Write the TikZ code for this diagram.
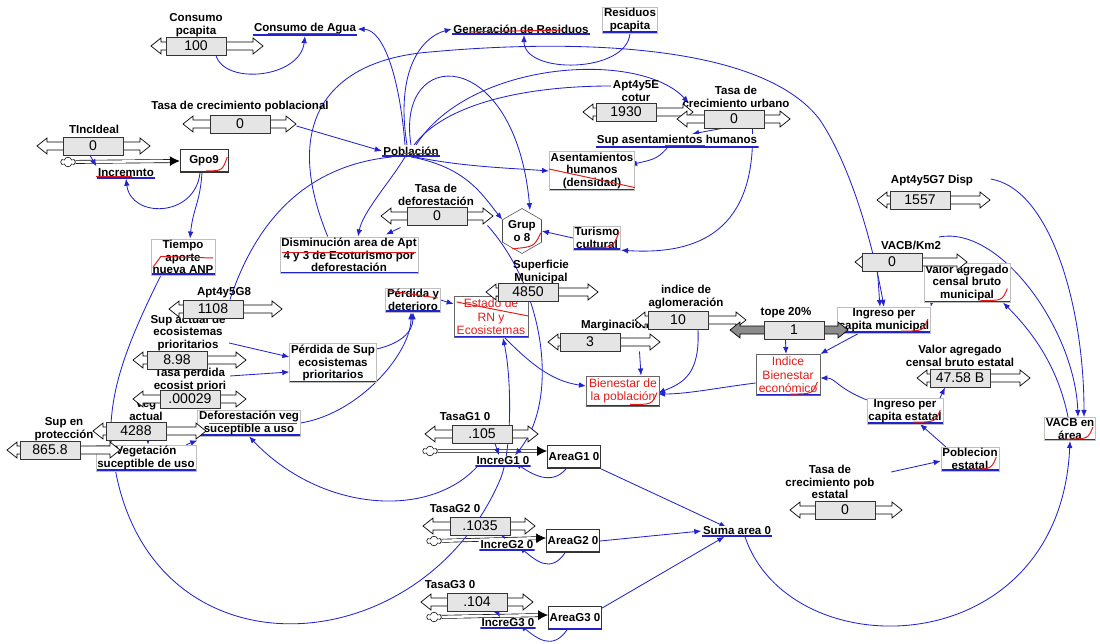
\documentclass[tikz,border=0pt]{standalone}
\usepackage{fontspec}
\setmainfont{Liberation Sans}
\usetikzlibrary{positioning, arrows.meta, calc, shapes.geometric, shapes.symbols, backgrounds}

\definecolor{linkblue}{RGB}{35,35,205}
\definecolor{markred}{RGB}{225,30,30}
\newcommand{\lblfont}{\fontsize{8.2}{8.9}\selectfont\bfseries}
\newcommand{\goalfont}{\fontsize{8.6}{9.6}\selectfont}

% slider: [fill] name, x, y, value, left tip, right tip
\newcommand{\slidervar}[7][white]{%
  \draw[sliderarrow, fill=#1] (#3-30,#4-4) -- (#6+10,#4-4) -- (#6+10,#4-8) -- (#6,#4)
      -- (#6+10,#4+8) -- (#6+10,#4+4) -- (#3-30,#4+4);
  \draw[sliderarrow, fill=#1] (#3+30,#4-4) -- (#7-10,#4-4) -- (#7-10,#4-8) -- (#7,#4)
      -- (#7-10,#4+8) -- (#7-10,#4+4) -- (#3+30,#4+4);
  \node[sliderbox] (#2) at (#3,#4) {#5};
}

\begin{document}
\begin{tikzpicture}[
    x=0.025cm, y=-0.025cm,
    lbl/.style={font=\lblfont, align=center, inner sep=1pt},
    uline/.style={path picture={\draw[linkblue, line width=2.4pt] (path picture bounding box.south west) -- (path picture bounding box.south east);}},
    aux/.style={lbl, fill=white, uline},
    auxbox/.style={aux, draw=black!25},
    goal/.style={lbl, font=\goalfont, text=markred, draw=black!60, fill=white, uline, inner sep=2pt},
    stock/.style={lbl, draw=black!80, fill=white, uline, minimum width=1.2cm, minimum height=0.58cm},
    hexa/.style={lbl, regular polygon, regular polygon sides=6, shape border rotate=30, draw=black!70, fill=white, minimum size=1.05cm, inner sep=0pt},
    srccloud/.style={cloud, cloud puffs=6, draw=black, fill=white, minimum width=0.36cm, minimum height=0.24cm, inner sep=0pt},
    pipe/.style={draw=black, line width=0.45pt, double=white, double distance=1.8pt, -{Latex[length=7pt,width=7pt]}},
    link/.style={draw=linkblue, line width=0.6pt, -{Latex[length=5pt,width=4pt]}},
    plainlink/.style={draw=linkblue, line width=0.6pt},
    redmark/.style={draw=markred, line width=0.7pt},
    sliderbox/.style={draw=black!80, fill=black!10, line width=0.7pt, minimum width=1.5cm, minimum height=0.45cm, inner sep=0pt, font=\fontsize{10}{10}\selectfont},
    sliderarrow/.style={draw=black, line width=0.5pt}
]
\useasboundingbox (0,0) rectangle (1100,644);

% Variables
\node[aux] (agua) at (305,29) {Consumo de Agua};
\node[aux] (residuos) at (521,29) {Generación de Residuos};
\node[auxbox] (rpcap) at (630,20) {Residuos\\pcapita};
\node[aux] (pob) at (411,151) {Población};
\node[aux] (supasen) at (677,141) {Sup asentamientos humanos};
\node[auxbox] (asen) at (592,171) {Asentamientos\\humanos\\(densidad)};
\node[stock] (gpo9) at (204,161) {Gpo9};
\node[aux] (incr) at (126,173) {Incremnto};
\node[auxbox] (tiempo) at (183,257) {Tiempo\\aporte\\nueva ANP};
\node[auxbox] (dismin) at (349,255) {Disminución area de Apt\\4 y 3 de Ecoturismo por\\deforestación};
\node[hexa] (grup) at (522,231) {Grup\\o 8};
\node[auxbox] (turismo) at (597,238) {Turismo\\cultural};
\node[auxbox] (perdet) at (413,300) {Pérdida y\\deterioro};
\node[goal] (estado) at (491,317) {Estado de\\RN y\\Ecosistemas};
\node[auxbox] (perdsup) at (333,363) {Pérdida de Sup\\ecosistemas\\prioritarios};
\node[auxbox] (defveg) at (249,423) {Deforestación veg\\suceptible a uso};
\node[auxbox] (vegsus) at (146,458) {Vegetación\\suceptible de uso};
\node[goal] (bienpob) at (623,391) {Bienestar de\\la población};
\node[goal] (indbien) at (788,375) {Indice\\Bienestar\\económico};
\node[auxbox] (ingmun) at (884,320) {Ingreso per\\capita municipal};
\node[auxbox] (vagmun) at (967,283) {Valor agregado\\censal bruto\\municipal};
\node[auxbox] (ingest) at (905,411) {Ingreso per\\capita estatal};
\node[auxbox] (pobest) at (970,459) {Poblecion\\estatal};
\node[auxbox] (vacb) at (1070,429) {VACB en\\área};
\node[aux] (incre1) at (503,461) {IncreG1 0};
\node[aux] (incre2) at (507,545) {IncreG2 0};
\node[aux] (incre3) at (508,623) {IncreG3 0};
\node[stock] (areag1) at (574,457) {AreaG1 0};
\node[stock] (areag2) at (573,541) {AreaG2 0};
\node[stock] (areag3) at (575,618) {AreaG3 0};
\node[aux] (suma) at (737,531) {Suma area 0};
\node[srccloud] (cl9) at (68,162) {};
\node[srccloud] (cl1) at (430,451) {};
\node[srccloud] (cl2) at (434,541) {};
\node[srccloud] (cl3) at (434,617) {};

% Slider labels
\node[lbl] (cpcl) at (196,25) {Consumo\\pcapita};
\node[lbl] (tcpl) at (240,107) {Tasa de crecimiento poblacional};
\node[lbl] (tiil) at (94,129) {TIncIdeal};
\node[lbl] (aptel) at (636,91) {Apt4y5E\\cotur};
\node[lbl] (tcul) at (736,97) {Tasa de\\crecimiento urbano};
\node[lbl] (apt7l) at (932,181) {Apt4y5G7 Disp};
\node[lbl] (tdefl) at (436,195) {Tasa de\\deforestación};
\node[lbl] (vacbkml) at (911,245) {VACB/Km2};
\node[lbl] (apt8l) at (224,293) {Apt4y5G8};
\node[lbl] (supl) at (188,333) {Sup actual de\\ecosistemas\\prioritarios};
\node[lbl] (tpl) at (190,380) {Tasa perdida\\ecosist priori};
\node[lbl] (vegl) at (146,410) {Veg\\actual};
\node[lbl] (spl) at (64,429) {Sup en\\protección};
\node[lbl] (supml) at (541,272) {Superficie\\Municipal};
\node[lbl] (aglol) at (686,297) {indice de\\aglomeración};
\node[lbl] (margl) at (615,325) {Marginación};
\node[lbl] (topel) at (786,313) {tope 20\%};
\node[lbl] (vagel) at (960,356) {Valor agregado\\censal bruto estatal};
\node[lbl] (tg1l) at (465,417) {TasaG1 0};
\node[lbl] (tg2l) at (455,509) {TasaG2 0};
\node[lbl] (tg3l) at (450,585) {TasaG3 0};
\node[lbl] (tcpel) at (830,482) {Tasa de\\crecimiento pob\\estatal};

% Sliders
\slidervar{cpc}{196}{46}{100}{151}{263}
\slidervar{tcp}{240}{124}{0}{183}{296}
\slidervar{tii}{93}{146}{0}{37}{150}
\slidervar{apte}{626}{112}{1930}{583}{693}
\slidervar{tcu}{734}{119}{0}{677}{790}
\slidervar{apt7}{920}{200}{1557}{877}{990}
\slidervar{tdef}{437}{216}{0}{381}{493}
\slidervar{vacbkm}{892}{262}{0}{855}{967}
\slidervar{apt8}{213}{309}{1108}{169}{282}
\slidervar{sup}{177}{360}{8.98}{133}{246}
\slidervar{tp}{190}{399}{.00029}{133}{246}
\slidervar{veg}{136}{431}{4288}{93}{206}
\slidervar{sp}{50}{450}{865.8}{7}{120}
\slidervar{supm}{528}{292}{4850}{486}{598}
\slidervar{aglo}{678}{320}{10}{635}{746}
\slidervar{marg}{590}{342}{3}{548}{660}
\slidervar[black!45]{tope}{794}{330}{1}{730}{848}
\slidervar{vage}{960}{378}{47.58 B}{917}{1030}
\slidervar{tg1}{482}{434}{.105}{425}{538}
\slidervar{tg2}{480}{526}{.1035}{423}{535}
\slidervar{tg3}{477}{602}{.104}{421}{533}
\slidervar{tcpe}{845}{510}{0}{790}{902}

% Flows and connectors
\begin{scope}[on background layer]
\draw[pipe] (cl9) -- (gpo9.west);
\draw[pipe] (cl1) -- ($(areag1.west)+(0,-6)$);
\draw[pipe] (cl2) -- ($(areag2.west)+(0,-3)$);
\draw[pipe] (cl3) -- ($(areag3.west)+(0,-3)$);

\draw[link] ($(cpc.south)+(20,0)$) .. controls +(9,30) and +(-5,42) .. (agua.south);
\draw[link] ($(pob.north)+(-6,0)$) .. controls +(-5,-64) and +(27,1) .. (agua.east);
\draw[link] ($(pob.north)+(-4,0)$) .. controls +(-12,-75) and +(-30,8) .. (residuos.west);
\draw[link] (rpcap.south) .. controls +(-3,40) and +(0,40) .. ($(residuos.south)+(3,0)$);
\draw[link] ($(tcp.east)+(26,2)$) -- (pob.west);
\draw[link] ($(pob.south)+(4,0)$) .. controls +(50,10) and +(-40,-3) .. (asen.west);
\draw[link] (pob.south) .. controls +(55,10) and +(-20,-25) .. (grup.150);
\draw[link] ($(pob.south)+(-6,0)$) .. controls +(-15,25) and +(5,-25) .. ($(dismin.north)+(9,0)$);
\draw[link] ($(tdef.south west)+(-6,2)$) -- ($(dismin.north)+(37,-2)$);
\draw[link] ($(dismin.north west)+(48,0)$) .. controls (280,120) and (330,60) .. (430,52)
    .. controls (560,40) and (760,40) .. (820,120) .. controls (850,165) and (872,240) .. (ingmun.north);
\draw[link] (pob.north) .. controls (395,45) and (515,45) .. ($(grup.north)+(8,2)$);
\draw[plainlink] ($(aptel.west)+(0,-5)$) .. controls +(-90,0) and +(30,-40) .. ($(pob.north)+(3,0)$);
\draw[link] ($(pob.north)+(5,0)$) .. controls (470,60) and (640,50) .. ($(tcul.west)+(8,6)$);
\draw[link] ($(supasen.south)+(-10,0)$) .. controls +(-10,12) and +(20,-5) .. ($(asen.east)+(-5,-6)$);
\draw[link] ($(tcu.south west)+(18,0)$) -- ($(supasen.north)+(15,0)$);
\draw[link] ($(tcu.south east)+(-12,0)$) .. controls +(3,102) and +(78,5) .. (turismo.south east);
\draw[link] (turismo.west) -- (grup.east);
\draw[link] ($(gpo9.south)+(-4,0)$) .. controls +(-5,45) and +(5,40) .. (incr.south);
\draw[link] ($(gpo9.south)+(-2,0)$) .. controls +(-2,30) and +(3,-30) .. ($(tiempo.north)+(7,0)$);
\draw[link] ($(tii.south)+(-3,0)$) -- ($(incr.north west)+(0,-1)$);
\draw[link] ($(tiempo.south west)+(10,0)$) .. controls +(-40,80) and +(0,-50) .. ($(vegsus.north west)+(15,0)$);
\draw[plainlink] ($(pob.south west)+(10,0)$) .. controls +(-100,10) and +(20,-60) .. ($(apt8.north)+(17,0)$);
\draw[link] ($(vegsus.south west)+(20,0)$) .. controls +(40,210) and (420,665) .. (500,480)
    .. controls (512,452) and (512,380) .. ($(estado.south)+(12,0)$);
\draw[link] ($(tdef.south east)+(20,0)$) .. controls (545,290) and (560,400) .. ($(incre1.north)+(12,0)$);
\draw[link] ($(incre1.south west)+(2,0)$) .. controls +(-49,53) and +(71,75) .. (defveg.south);
\draw[link] ($(perdsup.north east)+(-2,6)$) .. controls +(25,-5) and +(0,20) .. (perdet.south);
\draw[link] (defveg.east) .. controls +(60,-10) and +(0,40) .. ($(perdet.south)+(-2,0)$);
\draw[link] (perdet.east) -- ($(estado.north west)+(0,8)$);
\draw[link] ($(estado.south)+(14,0)$) .. controls +(25,25) and +(-35,-5) .. ($(bienpob.west)+(0,-5)$);
\draw[link] ($(marg.south east)+(19,0)$) -- ($(bienpob.north)+(18,0)$);
\draw[link] ($(aglo.south)+(20,0)$) .. controls +(2,45) and +(25,-10) .. ($(bienpob.east)+(-2,2)$);
\draw[link] ($(indbien.west)+(0,8)$) .. controls +(-40,5) and +(30,0) .. ($(bienpob.east)+(-2,3)$);
\draw[link] ($(tope.south west)+(22,0)$) -- ($(indbien.north)+(-2,0)$);
\draw[link] ($(ingmun.south west)+(22,0)$) -- (indbien.north east);
\draw[link] ($(ingest.north west)+(0,2)$) .. controls +(-30,-12) and +(15,0) .. ($(indbien.east)+(0,3)$);
\draw[link] ($(ingest.north)+(35,0)$) -- ($(vage.south)+(-15,0)$);
\draw[link] ($(pobest.north west)+(5,0)$) -- ($(ingest.south)+(15,0)$);
\draw[link] ($(tcpel.east)+(15,-10)$) -- ($(pobest.west)+(0,2)$);
\draw[link] ($(vacbkm.south west)+(16,0)$) -- ($(ingmun.north)+(-4,0)$);
\draw[link] ($(vagmun.south west)+(8,0)$) -- (ingmun.north east);
\draw[link] ($(vacb.north)+(-2,0)$) .. controls +(-10,-50) and +(30,30) .. ($(vagmun.south)+(36,0)$);
\draw[link] ($(apt7l.east)+(16,-2)$) .. controls +(60,10) and +(0,-110) .. ($(vacb.north)+(14,0)$);
\draw[link] ($(vacbkml.north east)+(-4,-2)$) .. controls (1000,225) and (1075,330) .. ($(vacb.north)+(8,0)$);
\draw[link] ($(suma.south)+(8,0)$) .. controls (790,670) and (1060,665) .. (vacb.south);
\draw[link] (areag1.south east) -- ($(suma.north west)+(25,2)$);
\draw[link] (areag2.east) -- (suma.west);
\draw[link] ($(areag3.north east)+(0,2)$) -- ($(suma.south west)+(23,0)$);
\draw[link] ($(areag1.south)+(-8,0)$) .. controls +(-15,18) and +(15,10) .. ($(incre1.south east)+(-16,-4)$);
\draw[link] ($(areag2.south)+(-8,0)$) .. controls +(-15,22) and +(15,12) .. ($(incre2.south east)+(-16,-4)$);
\draw[link] ($(areag3.south)+(-8,0)$) .. controls +(-15,22) and +(15,12) .. ($(incre3.south east)+(-16,-4)$);
\draw[link] ($(tg1.south)+(13,0)$) -- ($(incre1.north)+(-4,0)$);
\draw[link] ($(tg2.south)+(23,0)$) -- ($(incre2.north)+(-2,0)$);
\draw[link] ($(tg3.south)+(20,0)$) -- ($(incre3.north)+(-8,0)$);
\draw[link] ($(supl.east)+(2,10)$) -- ($(perdsup.west)+(0,-6)$);
\draw[link] ($(tpl.east)+(2,-4)$) -- ($(perdsup.west)+(0,9)$);
\draw[link] ($(veg.south)+(12,0)$) -- ($(vegsus.north)+(2,0)$);
\draw[link] ($(vegsus.north east)+(-10,0)$) -- ($(defveg.south west)+(0,4)$);
\end{scope}

% Red marks
\draw[redmark] ($(agua.south west)+(16,-3)$) -- ($(agua.south east)+(-18,-3)$);
\draw[redmark] ($(residuos.west)+(18,3)$) -- ($(residuos.east)+(-28,1)$);
\draw[redmark] ($(pob.south)+(-8,-3)$) -- ($(pob.south east)+(-3,-3)$);
\draw[redmark] ($(supasen.south)+(-12,-3)$) -- ++(40,0);
\draw[redmark] ($(asen.west)+(0,-2)$) -- ($(asen.south east)+(0,-3)$);
\draw[redmark] ($(gpo9.south)+(2,-2)$) .. controls ($(gpo9.south east)+(-6,-2)$) .. ($(gpo9.east)+(-1,-4)$);
\draw[redmark] ($(incr.south west)+(0,-2)$) -- ++(36,0);
\draw[redmark] ($(tiempo.south west)+(2,-8)$) -- ++(8,-11) -- ($(tiempo.east)+(-2,1)$);
\draw[redmark] ($(dismin.west)+(2,-3)$) -- ($(dismin.east)+(-2,-3)$);
\draw[redmark] ($(grup.south)+(-10,-5)$) .. controls ($(grup.south)+(12,-7)$) .. ($(grup.east)+(-1,2)$);
\draw[redmark] ($(turismo.south)+(-10,-3)$) .. controls ($(turismo.south east)+(-8,-2)$) .. ($(turismo.east)+(-2,-6)$);
\draw[redmark] ($(perdet.north west)+(3,3)$) -- ($(perdet.east)+(-3,-2)$);
\draw[redmark] ($(estado.north west)+(3,6)$) -- ($(estado.east)+(0,-1)$);
\draw[redmark] ($(defveg.west)+(12,0)$) -- ($(defveg.east)+(-4,0)$);
\foreach \v in {bienpob, indbien, ingmun, vagmun, ingest, pobest, vacb}
  \draw[redmark] ($(\v.south east)+(-30,-2)$) .. controls ($(\v.south east)+(-8,-2)$) .. ($(\v.south east)+(-3,-14)$);
\end{tikzpicture}
\end{document}
